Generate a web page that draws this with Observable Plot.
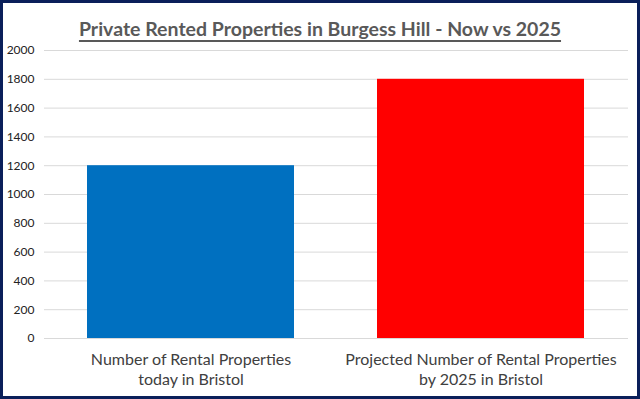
<!DOCTYPE html>
<html>
<head>
<meta charset="utf-8">
<script src="https://cdn.jsdelivr.net/npm/d3@7"></script>
<script src="https://cdn.jsdelivr.net/npm/@observablehq/plot@0.6"></script>
<style>
  html, body { margin: 0; padding: 0; background: #fff; }
  #frame {
    position: relative; width: 640px; height: 399px; box-sizing: border-box;
    border: 3px solid #0a1f5a; background: #fff; overflow: hidden;
    font-family: Lato, "Open Sans", sans-serif;
  }
  #title {
    position: absolute; left: 0; right: 0; top: 14px; text-align: center;
    font-size: 19.5px; font-weight: bold; color: #595959;
    text-decoration: underline; text-underline-offset: 4px; text-decoration-thickness: 1.5px;
  }
  #chart { position: absolute; left: 0; top: 40px; }
</style>
</head>
<body>
<div id="frame">
  <div id="title">Private Rented Properties in Burgess Hill - Now vs 2025</div>
  <div id="chart"></div>
</div>
<script>
const categories = [
  "Number of Rental Properties\ntoday in Bristol",
  "Projected Number of Rental Properties\nby 2025 in Bristol"
];
const values = [1200, 1800];
const barColors = ["#0070C0", "#FF0000"];
const yTicks = [0, 200, 400, 600, 800, 1000, 1200, 1400, 1600, 1800, 2000];

const data = categories.map((c, i) => ({category: c, value: values[i], color: barColors[i]}));

const chart = Plot.plot({
  width: 634,
  height: 353,
  marginTop: 7,
  marginBottom: 58,
  marginLeft: 41,
  marginRight: 9,
  style: {fontFamily: "Lato, 'Open Sans', sans-serif", background: "#fff", overflow: "visible"},
  x: {domain: categories, paddingInner: 0.285, paddingOuter: 0.148, label: null},
  y: {domain: [0, 2000], label: null},
  marks: [
    Plot.gridY(yTicks, {stroke: "#d9d9d9", strokeOpacity: 1, strokeWidth: 1}),
    Plot.barY(data, {x: "category", y: "value", fill: "color"}),
    Plot.axisY(yTicks, {tickSize: 0, tickPadding: 10, fontSize: 12, fill: "#222", label: null, tickFormat: d => String(d)}),
    Plot.axisX({tickSize: 0, tickPadding: 12, fontSize: 16, fill: "#404040", lineHeight: 1.25, label: null})
  ]
});
document.getElementById("chart").appendChild(chart);
</script>
</body>
</html>
